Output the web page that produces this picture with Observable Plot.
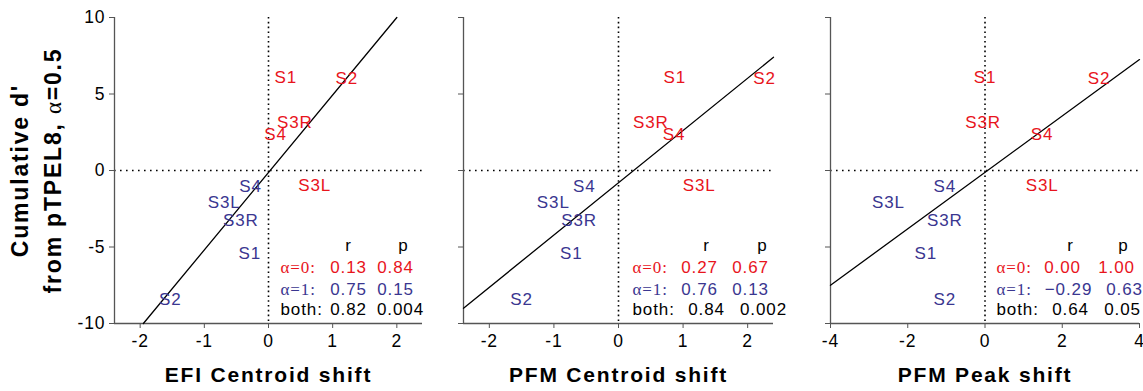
<!DOCTYPE html>
<html><head><meta charset="utf-8">
<script src="https://cdn.jsdelivr.net/npm/d3@7"></script>
<script src="https://cdn.jsdelivr.net/npm/@observablehq/plot@0.6"></script>
<style>
body{margin:0;background:#fff;}
#wrap{position:relative;width:1143px;height:391px;overflow:hidden;background:#fff;}
#wrap svg{position:absolute;top:0;}
</style></head><body><div id="wrap"></div>
<script>
// ---- data ----
const subjects = ["S1", "S2", "S3R", "S3L", "S4"];
const dprimeAlpha0 = [6.1, 6.0, 3.15, -1.0, 2.35];
const dprimeAlpha1 = [-5.4, -8.45, -3.3, -2.1, -1.05];
const efiShiftAlpha0 = [0.27, 1.22, 0.41, 0.72, 0.11];
const efiShiftAlpha1 = [-0.29, -1.53, -0.43, -0.69, -0.28];
const pfmCentroidAlpha0 = [0.87, 2.26, 0.50, 1.25, 0.86];
const pfmCentroidAlpha1 = [-0.73, -1.50, -0.61, -1.01, -0.53];
const pfmPeakAlpha0 = [0.0, 2.95, -0.05, 1.48, 1.48];
const pfmPeakAlpha1 = [-1.53, -1.04, -1.04, -2.5, -1.04];
// fitted lines (endpoints)
const efiFitX = [-1.95, 2.0], efiFitY = [-10, 10];
const centroidFitX = [-2.4, 2.4], centroidFitY = [-9.0, 7.4];
const peakFitX = [-4, 4], peakFitY = [-7.5, 7.25];
// stats
const rowLabels = ["α=0:", "α=1:", "both:"];
const efiR = ["0.13", "0.75", "0.82"], efiP = ["0.84", "0.15", "0.004"];
const centroidR = ["0.27", "0.76", "0.84"], centroidP = ["0.67", "0.13", "0.002"];
const peakR = ["0.00", "\u22120.29", "0.64"], peakP = ["1.00", "0.63", "0.05"];
// ticks & labels
const yTicks = [-10, -5, 0, 5, 10];
const centroidTicks = [-2, -1, 0, 1, 2];
const peakTicks = [-4, -2, 0, 2, 4];
const xLabels = ["EFI Centroid shift", "PFM Centroid shift", "PFM Peak shift"];
const yLabelLines = ["Cumulative d'", "from pTPEL8, \u03b1=0.5"];

// ---- style ----
const RED = "#e8141c", BLUE = "#3a3690", AXIS = "#555";
const SANS = "'Liberation Sans', Arial, sans-serif";
const SERIF = "'Liberation Serif', 'Times New Roman', serif";
const rowColors = [RED, BLUE, "#000"];
const rowFonts = [SERIF, SERIF, SANS];
const rowDy = [-56, -34, -14], headDy = -78;

const panels = [
  {left: 0, width: 440, ml: 114, mr: 18, domain: [-2.4, 2.4], ticks: centroidTicks,
   x0: efiShiftAlpha0, x1: efiShiftAlpha1, fx: efiFitX, fy: efiFitY, r: efiR, p: efiP,
   labelDx: -142, rHead: -74, pHead: -19, rDx: [-74, -74, -74], pDx: [-27, -27, -22], first: true, xlab: xLabels[0]},
  {left: 440, width: 350, ml: 23, mr: 17, domain: [-2.4, 2.4], ticks: centroidTicks,
   x0: pfmCentroidAlpha0, x1: pfmCentroidAlpha1, fx: centroidFitX, fy: centroidFitY, r: centroidR, p: centroidP,
   labelDx: -141, rHead: -67, pHead: -11, rDx: [-74, -74, -67], pDx: [-23, -23, -10], first: false, xlab: xLabels[1]},
  {left: 790, width: 353, ml: 40, mr: 4, domain: [-4, 4], ticks: peakTicks,
   x0: pfmPeakAlpha0, x1: pfmPeakAlpha1, fx: peakFitX, fy: peakFitY, r: peakR, p: peakP,
   labelDx: -143, rHead: -69, pHead: -16, rDx: [-77, -71, -69], pDx: [-23, -15, -17], first: false, xlab: xLabels[2]}
];

const wrap = document.getElementById("wrap");
for (const c of panels) {
  const red = subjects.map((s, i) => ({s, x: c.x0[i], y: dprimeAlpha0[i]}));
  const blue = subjects.map((s, i) => ({s, x: c.x1[i], y: dprimeAlpha1[i]}));
  const fit = c.fx.map((x, i) => ({x, y: c.fy[i]}));
  const stat = (t, dx, dy, fill, font, anchor) => Plot.text([t], {
    text: d => d, frameAnchor: "bottom-right", dx, dy, fill, fontFamily: font,
    fontSize: 17, textAnchor: anchor, lineAnchor: "middle"
  });
  const marks = [
    Plot.ruleX([0], {stroke: "#000", strokeWidth: 1.6, strokeDasharray: "1.6,3.2"}),
    Plot.ruleY([0], {stroke: "#000", strokeWidth: 1.6, strokeDasharray: "1.6,4.4"}),
    Plot.axisX({ticks: c.ticks, tickSize: 5, tickPadding: 6, tickFormat: d => String(d),
      fontSize: 17.5, fontFamily: SANS, label: null, stroke: AXIS, fill: "#000"}),
    Plot.axisY({ticks: yTicks, tickSize: 5, tickPadding: 4,
      tickFormat: c.first ? (d => String(d)) : (() => ""),
      fontSize: 17.5, fontFamily: SANS, label: null, stroke: AXIS, fill: "#000"}),
    Plot.ruleY([-10], {stroke: AXIS, strokeWidth: 1.3}),
    Plot.ruleX([c.domain[0]], {stroke: AXIS, strokeWidth: 1.3}),
    Plot.line(fit, {x: "x", y: "y", stroke: "#000", strokeWidth: 1.3}),
    Plot.text(red, {x: "x", y: "y", text: "s", fill: RED, fontSize: 17, fontFamily: SANS}),
    Plot.text(blue, {x: "x", y: "y", text: "s", fill: BLUE, fontSize: 17, fontFamily: SANS}),
    Plot.text([c.xlab], {text: d => d, frameAnchor: "bottom", dy: 58, fontSize: 21, fontWeight: "bold",
      fontFamily: SANS, fill: "#000", textAnchor: "middle"}),
    stat("r", c.rHead, headDy, "#000", SANS, "middle"),
    stat("p", c.pHead, headDy, "#000", SANS, "middle")
  ];
  rowLabels.forEach((lab, i) => {
    marks.push(stat(lab, c.labelDx, rowDy[i], rowColors[i], rowFonts[i], "start"));
    marks.push(stat(c.r[i], c.rDx[i], rowDy[i], rowColors[i], SANS, "middle"));
    marks.push(stat(c.p[i], c.pDx[i], rowDy[i], rowColors[i], SANS, "middle"));
  });
  if (c.first) {
    marks.push(Plot.text([yLabelLines[0]], {text: d => d, frameAnchor: "left", dx: 20 - c.ml, rotate: -90,
      textAnchor: "middle", fontSize: 23, fontWeight: "bold", fontFamily: SANS, fill: "#000"}));
    marks.push(Plot.text([yLabelLines[1]], {text: d => d, frameAnchor: "left", dx: 53 - c.ml, rotate: -90,
      textAnchor: "middle", fontSize: 23, fontWeight: "bold", fontFamily: SANS, fill: "#000"}));
  }
  const svg = Plot.plot({
    width: c.width, height: 391,
    marginLeft: c.ml, marginRight: c.mr, marginTop: 17, marginBottom: 68,
    x: {domain: c.domain, nice: false},
    y: {domain: [-10, 10], nice: false},
    style: {background: "transparent", overflow: "visible", fontFamily: SANS},
    marks
  });
  // letter spacing & mixed fonts
  d3.select(svg).selectAll("text").each(function () {
    const t = this.textContent;
    let ls = 0.9;
    if (xLabels.includes(t)) ls = 1.8;
    else if (yLabelLines.includes(t)) ls = 1.8;
    this.setAttribute("letter-spacing", ls + "px");
    if (t === yLabelLines[1]) {
      const s = d3.select(this);
      s.text(null);
      s.append("tspan").text("from pTPEL8, ");
      s.append("tspan").attr("font-family", SERIF).attr("font-weight", "normal").text("\u03b1");
      s.append("tspan").text("=0.5");
    }
  });
  svg.style.left = c.left + "px";
  wrap.appendChild(svg);
}
</script></body></html>
